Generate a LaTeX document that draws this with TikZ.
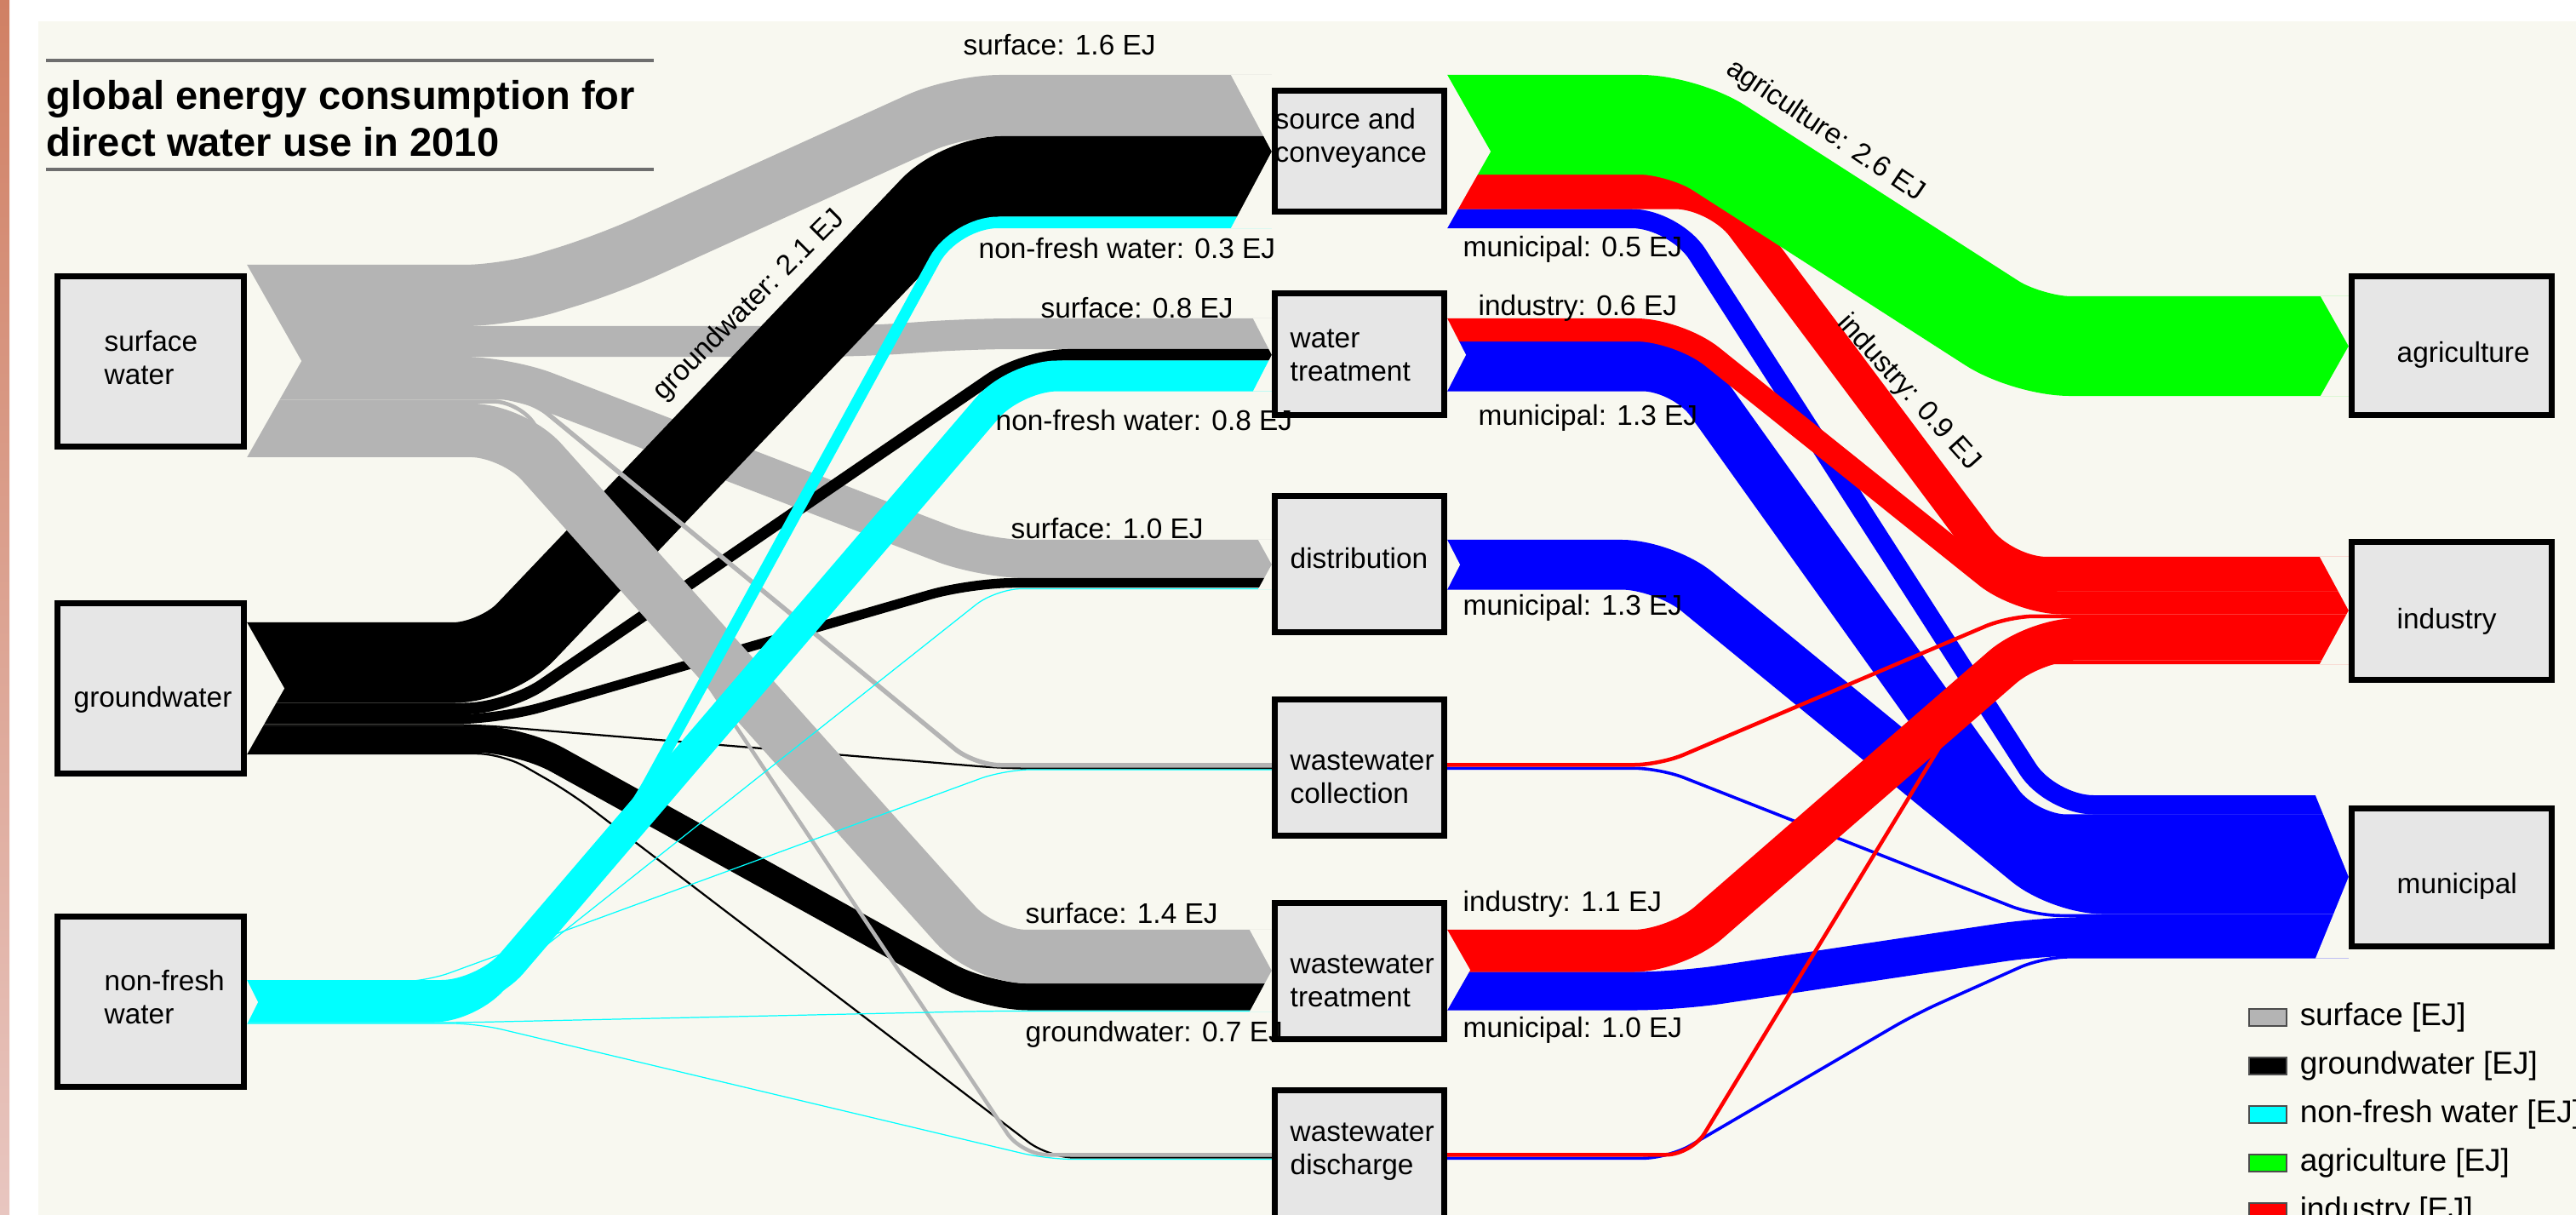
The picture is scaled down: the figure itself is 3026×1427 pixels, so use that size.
\documentclass[tikz,border=0pt]{standalone}
\usepackage{fontspec}
\setmainfont{Liberation Sans}
\usetikzlibrary{positioning}

\definecolor{bgc}{RGB}{248,248,240}
\definecolor{boxc}{RGB}{230,230,230}
\definecolor{rulec}{RGB}{110,110,110}
\definecolor{stripTop}{RGB}{208,128,100}
\definecolor{stripBot}{RGB}{232,198,192}
\definecolor{cSurf}{RGB}{180,180,180}
\definecolor{cGround}{RGB}{0,0,0}
\definecolor{cNonfresh}{RGB}{0,255,255}
\definecolor{cAgri}{RGB}{0,255,0}
\definecolor{cInd}{RGB}{255,0,0}
\definecolor{cMun}{RGB}{0,0,255}

\begin{document}
\begin{tikzpicture}[x=0.01cm,y=-0.01cm,
	band/.style={line width=#1*0.45cm,rounded corners=0.5cm},
	slim/.style={line width=#1*0.45cm,rounded corners=0.3cm},
	hair/.style={line width=0.35pt,rounded corners=0.3cm},
	box/.style={draw=black,line width=0.07cm,fill=boxc,inner sep=0},
	lbox/.style={box,minimum width=2.19cm,minimum height=1.99cm},
	mbox/.style={box,minimum width=1.99cm,minimum height=1.6cm},
	rbox/.style={box,minimum width=2.35cm,minimum height=1.62cm},
	lbl/.style={inner sep=0,align=left,font=\fontsize{9.5}{11.1}\selectfont},
	legsw/.style={draw=black!70,line width=0.02cm,minimum width=0.44cm,minimum height=0.2cm,inner sep=0},
	legtxt/.style={inner sep=0,font=\fontsize{10.5}{12}\selectfont},
	]
	\useasboundingbox (0,0) rectangle (3026,1427);
	\clip (0,0) rectangle (3026,1427);
	% background
	\fill[white] (0,0) rectangle (3026,1427);
	\shade[top color=stripTop,bottom color=stripBot] (0,0) rectangle (11,1427);
	\fill[bgc] (45,25) rectangle (3026,1427);
	
	% title
	\draw[rulec,line width=0.04cm] (54,71) -- (768,71);
	\draw[rulec,line width=0.04cm] (54,199) -- (768,199);
	\node[inner sep=0,anchor=base west,font=\fontsize{13.4}{16}\selectfont\bfseries] (ttl1) at (54,128.5) {global energy consumption for};
	\node[inner sep=0,anchor=base west,font=\fontsize{13.4}{16}\selectfont\bfseries] (ttl2) at (54,183) {direct water use in 2010};
	
	% create the nodes
	\node[lbox] (sw) at (177,424.5) {};
	\node[lbox] (gw) at (177,808.5) {};
	\node[lbox] (nf) at (177,1176.5) {};
	\node[mbox,minimum height=1.42cm] (sc) at (1597,177.5) {};
	\node[mbox,minimum height=1.43cm] (wt) at (1597,416) {};
	\node[mbox] (dist) at (1597,662.5) {};
	\node[mbox] (wwc) at (1597,901.5) {};
	\node[mbox] (wwt) at (1597,1140.5) {};
	\node[mbox] (wwd) at (1597,1360.5) {};
	\node[rbox] (agri) at (2880,406) {};
	\node[rbox] (ind) at (2880,717.5) {};
	\node[rbox] (mun) at (2880,1030.5) {};
	
	% connect the nodes
	% surface water (under the groundwater bands)
	\draw[cSurf,band=1.6] (sw.east |- 0,347) -- (595,347) -- (715,310) -- (1125,124) -- (sc.west |- 0,124);
	\draw[cSurf,band=0.8] (sw.east |- 0,401) -- (1010,401) -- (1140,392) -- (wt.west |- 0,392);
	\draw[cSurf,band=1.0] (sw.east |- 0,441.5) -- (595,441.5) -- (1155,656.5) -- (dist.west |- 0,656.5);
	% groundwater
	\draw[cGround,band=2.1] (gw.east |- 0,778.25) -- (583,778.25) -- (1127,207.25) -- (sc.west |- 0,207.25);
	\draw[cGround,band=0.3] (gw.east |- 0,832.25) -- (596,832.25) -- (1204,416.75) -- (wt.west |- 0,416.75);
	\draw[cGround,band=0.25] (gw.east |- 0,844.6) -- (588,844.6) -- (1140,684.6) -- (dist.west |- 0,684.6);
	\draw[cGround,slim=0.05] (gw.east |- 0,851.4) -- (560,851.4) -- (1180,902.5) -- (wwc.west |- 0,902.5);
	\draw[cGround,band=0.7] (gw.east |- 0,868.25) -- (611,868.25) -- (1158,1170.75) -- (wwt.west |- 0,1170.75);
	\draw[cGround,slim=0.05] (gw.east |- 0,885.1) -- (590,885.1) -- (670,931) -- (1232,1359.6) -- (wwd.west |- 0,1359.6);
	% surface water (on top)
	\draw[cSurf,band=1.4] (sw.east |- 0,505.4) -- (603,505.4) -- (1156,1123.5) -- (wwt.west |- 0,1123.5);
	\draw[cSurf,slim=0.12] (sw.east |- 0,466.7) -- (620,466.7) -- (1145,898.7) -- (wwc.west |- 0,898.7);
	\draw[cSurf,slim=0.1] (sw.east |- 0,471.6) -- (610,471.6) -- (1200,1356.25) -- (wwd.west |- 0,1356.25);
	% non-fresh water
	\draw[cNonfresh,band=0.8] (nf.east |- 0,1169) -- (569,1169) -- (1192,441.5) -- (wt.west |- 0,441.5);
	\draw[cNonfresh,band=0.3] (nf.east |- 0,1193.75) -- (560,1193.75) -- (740,960) -- (1122,261.25) -- (sc.west |- 0,261.25);
	\draw[cNonfresh,hair] (nf.east |- 0,1175) -- (560,1175) -- (1170,691.5) -- (dist.west |- 0,691.5);
	\draw[cNonfresh,hair] (nf.east |- 0,1153) -- (500,1153) -- (1180,904) -- (wwc.west |- 0,904);
	\draw[cNonfresh,hair] (nf.east |- 0,1201) -- (540,1201) -- (1160,1187.5) -- (wwt.west |- 0,1187.5);
	\draw[cNonfresh,hair] (nf.east |- 0,1202) -- (560,1202) -- (1230,1361.5) -- (wwd.west |- 0,1361.5);
	% municipal
	\draw[cMun,band=0.5] (sc.east |- 0,256.75) -- (1967,256.75) -- (2409,945.25) -- (mun.west |- 0,945.25);
	\draw[cMun,band=1.3] (wt.east |- 0,430.25) -- (1980,430.25) -- (2377,985.75) -- (mun.west |- 0,985.75);
	\draw[cMun,band=1.3] (dist.east |- 0,663.25) -- (1955,663.25) -- (2420,1044.25) -- (mun.west |- 0,1044.25);
	\draw[cMun,slim=0.08] (wwc.east |- 0,902.3) -- (1950,902.3) -- (2390,1075.3) -- (mun.west |- 0,1075.3);
	\draw[cMun,band=1.0] (wwt.east |- 0,1164) -- (1970,1164) -- (2400,1099.6) -- (mun.west |- 0,1099.6);
	\draw[cMun,slim=0.08] (wwd.east |- 0,1360.3) -- (1960,1360.3) -- (2250,1191) -- (2400,1123.9) -- (mun.west |- 0,1123.9);
	% industry
	\draw[cInd,band=0.9] (sc.east |- 0,225.25) -- (2018,225.25) -- (2354,674.25) -- (ind.west |- 0,674.25);
	\draw[cInd,band=0.6] (wt.east |- 0,387.5) -- (1972,387.5) -- (2372,708) -- (ind.west |- 0,708);
	\draw[cInd,slim=0.1] (wwc.east |- 0,898.25) -- (1950,898.25) -- (2360,723.75) -- (ind.west |- 0,723.75);
	\draw[cInd,band=1.1] (wwt.east |- 0,1116.75) -- (1969,1116.75) -- (2390,750.75) -- (ind.west |- 0,750.75);
	\draw[cInd,slim=0.1] (wwd.east |- 0,1356.25) -- (1987,1356.25) -- (2339,777.75) -- (ind.west |- 0,777.75);
	% agriculture
	\draw[cAgri,band=2.6] (sc.east |- 0,146.5) -- (1977,146.5) -- (2382,406.5) -- (agri.west |- 0,406.5);
	
	% arrow tips and notches
	\foreach \nd/\ytop/\ybot/\dep in {sc/88/268/48,wt/374/459.5/22,dist/634/692/16,wwt/1092/1188/26,agri/348/465/33,ind/654/780/34,mun/934/1125.7/39}{
		\fill[bgc] (\nd.west |- 0,\ytop) -- ++(-\dep,0) -- ++(\dep,{(\ybot-\ytop)/2}) -- cycle;
		\fill[bgc] (\nd.west |- 0,\ybot) -- ++(-\dep,0) -- ++(\dep,{(\ytop-\ybot)/2}) -- cycle;
	}
	\foreach \nd/\ytop/\ybot/\dep in {sw/311/537/64,gw/731/886/44,nf/1151/1203/13,sc/88/268/51,wt/374/459.5/22,dist/634/692.5/15,wwt/1092/1186.5/27}{
		\fill[bgc] (\nd.east |- 0,\ytop) -- ++(\dep,{(\ybot-\ytop)/2}) -- (\nd.east |- 0,\ybot) -- cycle;
	}
	
	% node texts
	\node[lbl,anchor=west] (sw-t) at (122,420) {surface\\water};
	\node[lbl,anchor=west] (gw-t) at (86,822) {groundwater};
	\node[lbl,anchor=west] (nf-t) at (122,1171) {non-fresh\\water};
	\node[lbl,anchor=west] (sc-t) at (1497,162) {source and\\conveyance};
	\node[lbl,anchor=west] (wt-t) at (1515,417) {water\\treatment};
	\node[lbl,anchor=west] (dist-t) at (1515,656) {distribution};
	\node[lbl,anchor=west] (wwc-t) at (1515,913) {wastewater\\collection};
	\node[lbl,anchor=west] (wwt-t) at (1515,1152) {wastewater\\treatment};
	\node[lbl,anchor=west] (wwd-t) at (1515,1353) {wastewater\\discharge};
	\node[lbl,anchor=west] (agri-t) at (2815,417) {agriculture};
	\node[lbl,anchor=west] (ind-t) at (2815,730) {industry};
	\node[lbl,anchor=west] (mun-t) at (2815,1041) {municipal};
	
	% flow labels
	\node[lbl,anchor=west] (l-s16) at (1131,53) {surface: 1.6 EJ};
	\node[lbl,anchor=west] (l-n03) at (1149,292) {non-fresh water: 0.3 EJ};
	\node[lbl,anchor=west] (l-s08) at (1222,362) {surface: 0.8 EJ};
	\node[lbl,anchor=west] (l-n08) at (1169,494) {non-fresh water: 0.8 EJ};
	\node[lbl,anchor=west] (l-s10) at (1187,621) {surface: 1.0 EJ};
	\node[lbl,anchor=west] (l-s14) at (1204,1073) {surface: 1.4 EJ};
	\node[lbl,anchor=west] (l-g07) at (1204,1215) {groundwater: 0.7 EJ};
	\node[lbl,rotate=45] (l-g21) at (880,359) {groundwater: 2.1 EJ};
	\node[lbl,anchor=west] (l-m05) at (1718,293) {municipal: 0.5 EJ};
	\node[lbl,anchor=west] (l-i06) at (1736,362) {industry: 0.6 EJ};
	\node[lbl,anchor=west] (l-m13a) at (1736,491) {municipal: 1.3 EJ};
	\node[lbl,anchor=west] (l-m13b) at (1718,714) {municipal: 1.3 EJ};
	\node[lbl,anchor=west] (l-i11) at (1718,1062) {industry: 1.1 EJ};
	\node[lbl,anchor=west] (l-m10) at (1718,1210) {municipal: 1.0 EJ};
	\node[lbl,rotate=-34] (l-a26) at (2144,154) {agriculture: 2.6 EJ};
	\node[lbl,rotate=-48] (l-i09) at (2242,461) {industry: 0.9 EJ};
	
	% legend
	\node[legsw,fill=cSurf] (lg1) at (2664,1195) {};
	\node[legsw,fill=cGround] (lg2) at (2664,1252) {};
	\node[legsw,fill=cNonfresh] (lg3) at (2664,1309) {};
	\node[legsw,fill=cAgri] (lg4) at (2664,1366) {};
	\node[legsw,fill=cInd] (lg5) at (2664,1423) {};
	\node[legtxt,right=0.14cm of lg1] (lg1-t) {surface [EJ]};
	\node[legtxt,right=0.14cm of lg2] (lg2-t) {groundwater [EJ]};
	\node[legtxt,right=0.14cm of lg3] (lg3-t) {non-fresh water [EJ]};
	\node[legtxt,right=0.14cm of lg4] (lg4-t) {agriculture [EJ]};
	\node[legtxt,right=0.14cm of lg5] (lg5-t) {industry [EJ]};
\end{tikzpicture}
\end{document}
